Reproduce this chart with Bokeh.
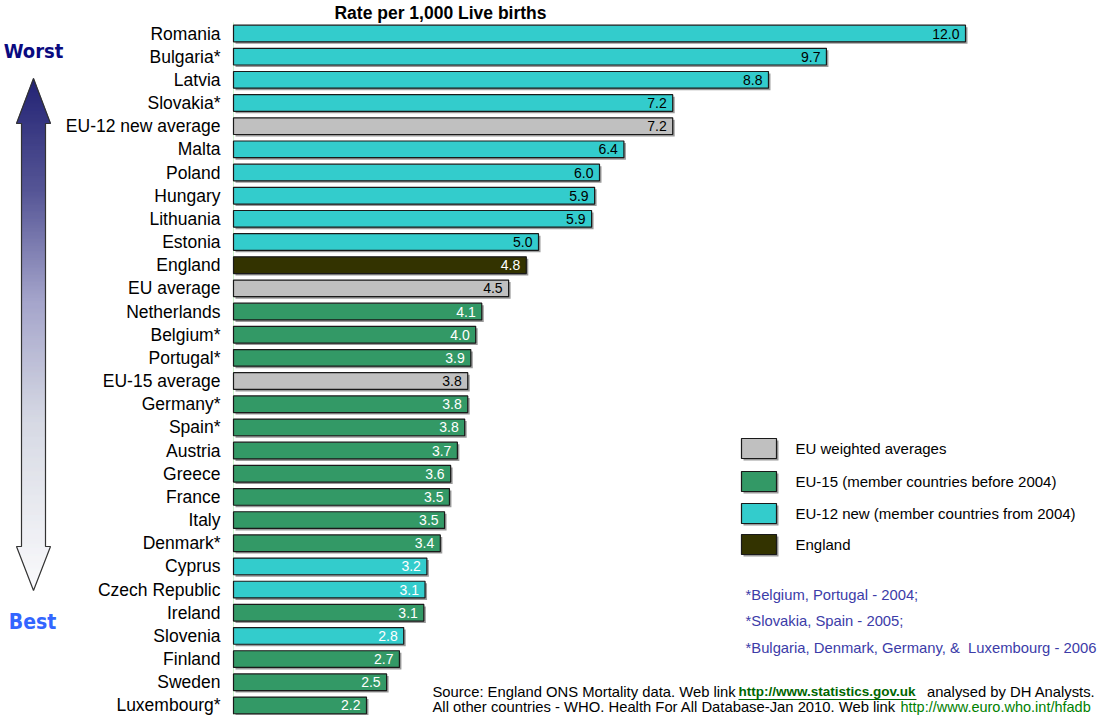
from bokeh.plotting import figure
from bokeh.models import Range1d, ColumnDataSource
from bokeh.core.properties import value
from bokeh.embed import file_html
from bokeh.resources import INLINE

# ---------------- data ----------------
countries = ["Romania", "Bulgaria*", "Latvia", "Slovakia*", "EU-12 new average", "Malta",
             "Poland", "Hungary", "Lithuania", "Estonia", "England", "EU average",
             "Netherlands", "Belgium*", "Portugal*", "EU-15 average", "Germany*", "Spain*",
             "Austria", "Greece", "France", "Italy", "Denmark*", "Cyprus", "Czech Republic",
             "Ireland", "Slovenia", "Finland", "Sweden", "Luxembourg*"]
rates = [12.0, 9.72, 8.77, 7.2, 7.2, 6.4,
         6.0, 5.92, 5.87, 5.0, 4.8, 4.51,
         4.07, 3.97, 3.89, 3.84, 3.84, 3.79,
         3.67, 3.56, 3.54, 3.46, 3.39, 3.17, 3.14,
         3.12, 2.79, 2.72, 2.51, 2.18]
groups = ["new", "new", "new", "new", "avg", "new",
          "new", "new", "new", "new", "eng", "avg",
          "old", "old", "old", "avg", "old", "old",
          "old", "old", "old", "old", "old", "new", "new",
          "old", "new", "old", "old", "old"]
legend_labels = ["EU weighted averages", "EU-15 (member countries before 2004)",
                 "EU-12 new (member countries from 2004)", "England"]
legend_groups = ["avg", "old", "new", "eng"]
footnotes = ["*Belgium, Portugal - 2004;", "*Slovakia, Spain - 2005;",
             "*Bulgaria, Denmark, Germany, &\u00a0 Luxembourg - 2006"]
title = "Rate per 1,000 Live births"

# ---------------- styling ----------------
FILL = {"avg": "#C0C0C0", "old": "#339966", "new": "#33CCCC", "eng": "#333300"}
W, H = 1099, 715
X0, SX = 233.0, 61.0          # pixel of zero, pixels per unit
Y0, SY = 33.0, 23.17          # pixel of first row, pixels per row


def px(v):
    return (v - X0) / SX


def py(v):
    return (v - Y0) / SY


FONT = value("Liberation Sans")

p = figure(width=W, height=H, output_backend="svg", toolbar_location=None,
           x_range=Range1d(px(0), px(W)), y_range=Range1d(py(H), py(0)),
           x_axis_location=None, y_axis_location=None, min_border=0,
           background_fill_color="white", border_fill_color="white")
p.outline_line_color = None
p.grid.visible = False

idx = list(range(len(countries)))
label_colors = []
for g, c in zip(groups, countries):
    if g in ("old", "eng") or c in ("Cyprus", "Czech Republic", "Slovenia"):
        label_colors.append("white")
    else:
        label_colors.append("black")

src = ColumnDataSource(dict(
    y=idx, right=rates, name=countries,
    fill=[FILL[g] for g in groups],
    lab=[f"{r:.1f}" for r in rates],
    lab_x=[r - 6 / SX for r in rates],
    lab_c=label_colors,
    y_sh=[i + 2 / SY for i in idx],
    r_sh=[r + 2 / SX for r in rates],
))

# axis line (pale green)
p.segment(x0=[0], y0=[py(22)], x1=[0], y1=[py(715)], line_color="#ccf0cc", line_width=1)

# shadows
p.hbar(y="y_sh", left=2 / SX, right="r_sh", height=0.72, source=src,
       fill_color="#9a9a9a", line_color=None)
# bars
p.hbar(y="y", left=0, right="right", height=0.72, source=src,
       fill_color="fill", line_color="#1a1a1a", line_width=1.2)
# value labels
p.text(x="lab_x", y="y", text="lab", source=src, text_align="right",
       text_baseline="middle", text_color="lab_c", text_font=FONT,
       text_font_size="14px")
# category labels
p.text(x=[px(220)] * len(countries), y=idx, text=countries, text_align="right",
       text_baseline="middle", text_color="black", text_font=FONT,
       text_font_size="17.5px")

# title
p.text(x=[px(440)], y=[py(12)], text=[title], text_align="center",
       text_baseline="middle", text_font=FONT, text_font_size="17.5px",
       text_font_style="bold", text_color="black")

# ---------------- arrow with gradient ----------------
stops = [(78, (26, 26, 110)), (190, (78, 78, 145)), (300, (160, 160, 200)),
         (420, (212, 215, 226)), (590, (250, 250, 252))]


def col_at(yy):
    for (ya, ca), (yb, cb) in zip(stops[:-1], stops[1:]):
        if ya <= yy <= yb:
            t = (yy - ya) / (yb - ya)
            c = [int(round(a + (b - a) * t)) for a, b in zip(ca, cb)]
            return "#%02x%02x%02x" % tuple(c)
    return "#ffffff"


CX = 33.0
xs, ys, cs = [], [], []
yy = 78.0
while yy < 590:
    yb = min(yy + 1.0, 590.0)
    if yy < 123:
        wa, wb = 17.0 * (yy - 78) / 45.0, 17.0 * (yb - 78) / 45.0
    elif yy < 546:
        wa = wb = 12.0
    else:
        wa, wb = 17.0 * (590 - yy) / 44.0, 17.0 * (590 - yb) / 44.0
    xs.append([px(CX - wa), px(CX + wa), px(CX + wb), px(CX - wb)])
    ys.append([py(yy), py(yy), py(yb), py(yb)])
    cs.append(col_at((yy + yb) / 2))
    yy = yb
p.patches(xs=xs, ys=ys, fill_color=cs, line_color=cs, line_width=0.6)

outline = [(33, 78), (50, 123), (45, 123), (45, 546), (50, 546), (33, 590),
           (16, 546), (21, 546), (21, 123), (16, 123), (33, 78)]
p.line(x=[px(a) for a, b in outline], y=[py(b) for a, b in outline],
       line_color="#333333", line_width=1.2)

NARROW = value("DejaVu Sans Condensed")
p.text(x=[px(33)], y=[py(50)], text=["Worst"], text_align="center",
       text_baseline="middle", text_font=NARROW, text_font_size="20px",
       text_font_style="bold", text_color="#0a0a80")
p.text(x=[px(32)], y=[py(621)], text=["Best"], text_align="center",
       text_baseline="middle", text_font=NARROW, text_font_size="21px",
       text_font_style="bold", text_color="#3366ff")

# ---------------- legend ----------------
leg_y = [448, 481, 513, 544]
p.quad(left=[px(743)] * 4, right=[px(778)] * 4,
       top=[py(y - 8) for y in leg_y], bottom=[py(y + 12) for y in leg_y],
       fill_color="#9a9a9a", line_color=None)
p.quad(left=[px(741)] * 4, right=[px(776)] * 4,
       top=[py(y - 10) for y in leg_y], bottom=[py(y + 10) for y in leg_y],
       fill_color=[FILL[g] for g in legend_groups], line_color="#1a1a1a", line_width=1.2)
p.text(x=[px(795)] * 4, y=[py(y) for y in leg_y], text=legend_labels,
       text_baseline="middle", text_font=FONT, text_font_size="15px", text_color="black")

# footnotes
p.text(x=[px(745)] * 3, y=[py(y) for y in (594, 620, 647)], text=footnotes,
       text_baseline="middle", text_font=FONT, text_font_size="14.8px", text_color="#3c3ca8")

# ---------------- source ----------------
p.text(x=[px(432)], y=[py(691)], text=["Source: England ONS Mortality data. Web link"],
       text_baseline="middle", text_font=FONT, text_font_size="14.8px", text_color="black")
p.text(x=[px(738)], y=[py(691)], text=["http://www.statistics.gov.uk"],
       text_baseline="middle", text_font=FONT, text_font_size="13.5px",
       text_font_style="bold", text_color="#006600")
p.segment(x0=[px(738)], y0=[py(699)], x1=[px(916)], y1=[py(699)], line_color="#006600", line_width=1)
p.text(x=[px(1095)], y=[py(691)], text=["analysed by DH Analysts."], text_align="right",
       text_baseline="middle", text_font=FONT, text_font_size="14.8px", text_color="black")
p.text(x=[px(432)], y=[py(706)],
       text=["All other countries - WHO. Health For All Database-Jan 2010. Web link"],
       text_baseline="middle", text_font=FONT, text_font_size="14.8px", text_color="black")
p.text(x=[px(900)], y=[py(706)], text=["http://www.euro.who.int/hfadb"],
       text_baseline="middle", text_font=FONT, text_font_size="14.5px", text_color="#008000")

open("out.html", "w").write(file_html(p, INLINE))
